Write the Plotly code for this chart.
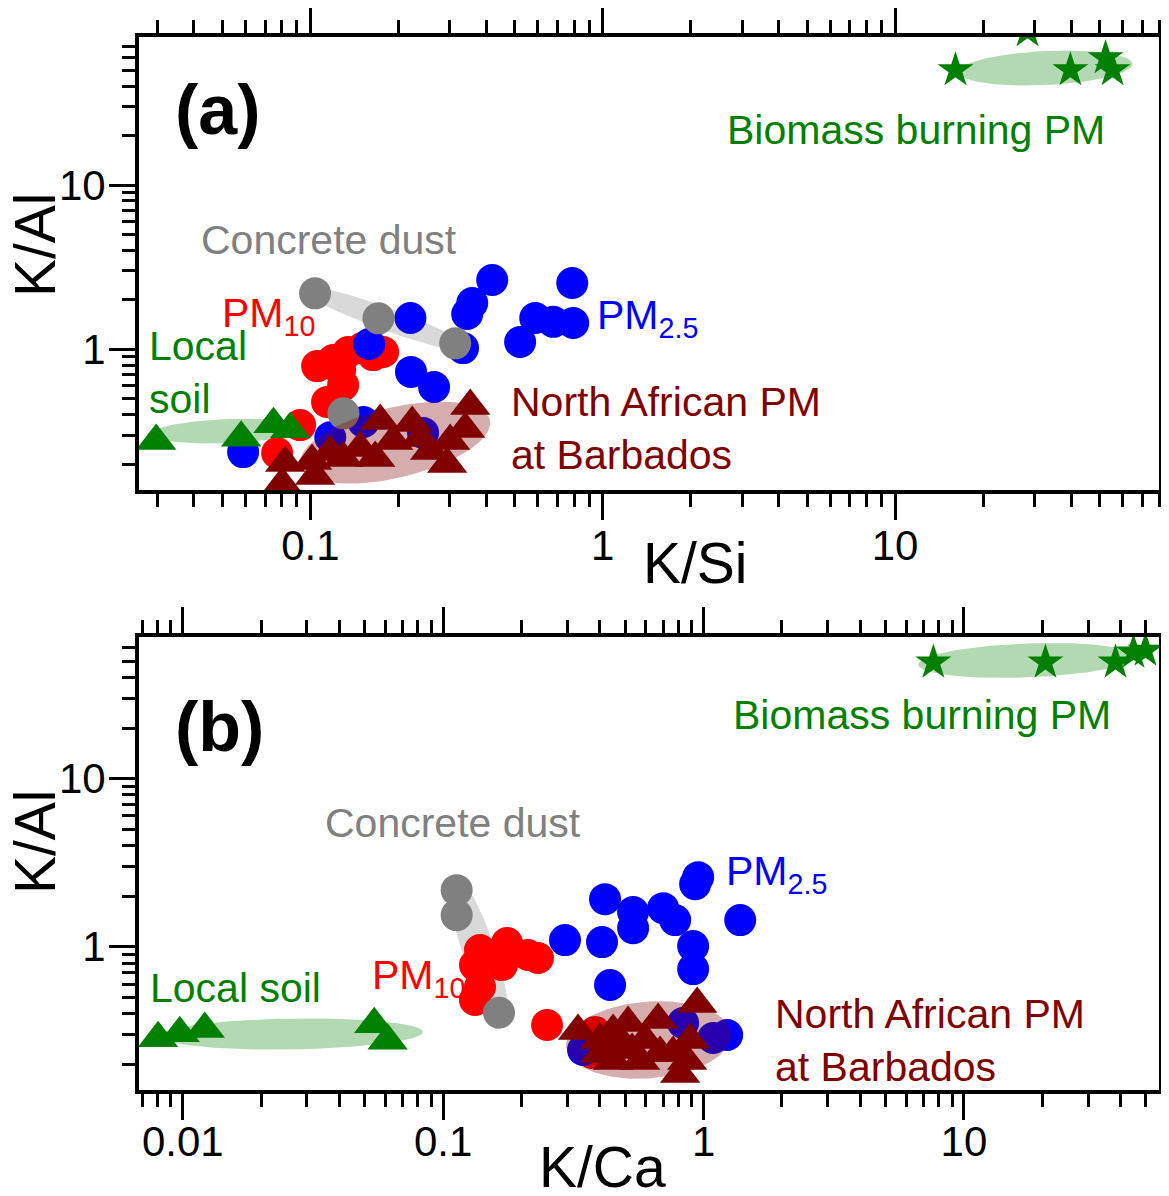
import numpy as np
import plotly.graph_objects as go

FONT = "Liberation Sans, Arial, sans-serif"
GREEN = "#008000"; BLUE = "#0000ff"; RED = "#ff0000"; GREY = "#808080"; MAROON = "#800000"

# ---------------- Panel (a): K/Al vs K/Si ----------------
soil_a_x = [0.0297, 0.058, 0.0748, 0.0853]
soil_a_y = [0.277, 0.290, 0.350, 0.326]
pm25_a_x = [0.0589, 0.117, 0.152, 0.243, 0.159, 0.220, 0.221, 0.265, 0.333, 0.344, 0.358, 0.419, 0.522, 0.588, 0.678, 0.793, 0.787]
pm25_a_y = [0.237, 0.292, 0.361, 0.310, 1.077, 1.551, 0.729, 0.590, 1.018, 1.640, 1.913, 2.641, 1.108, 1.551, 1.470, 1.446, 2.532]
pm10_a_x = [0.0770, 0.0923, 0.1141, 0.1295, 0.1055, 0.1197, 0.1347, 0.1504, 0.164, 0.1774, 0.1265]
pm10_a_y = [0.234, 0.346, 0.478, 0.606, 0.791, 0.861, 0.963, 1.018, 0.923, 0.963, 0.748]
concrete_a_x = [0.1038, 0.171, 0.313, 0.1298]
concrete_a_y = [2.192, 1.544, 1.088, 0.408]
africa_a_x = [0.0801, 0.0820, 0.1014, 0.1038, 0.1295, 0.1480, 0.1667, 0.1734, 0.1921, 0.2231, 0.2377, 0.2570, 0.2938, 0.3009, 0.3387, 0.3524, 0.1169]
africa_a_y = [0.1514, 0.2032, 0.209, 0.1694, 0.218, 0.2507, 0.218, 0.366, 0.2766, 0.356, 0.2884, 0.2404, 0.2003, 0.2766, 0.3273, 0.4517, 0.237]
biomass_a_x = [16.1, 39.8, 52.5, 55.5, 28.4]
biomass_a_y = [50.1, 50.1, 59.3, 50.1, 86.5]

# ---------------- Panel (b): K/Al vs K/Ca ----------------
soil_b_x = [0.00804, 0.00974, 0.01215, 0.05436, 0.0612]
soil_b_y = [0.2856, 0.3058, 0.3243, 0.3458, 0.2764]
pm25_b_x = [0.9535, 0.9285, 0.4184, 0.5364, 0.5364, 0.6995, 0.7779, 0.912, 0.912, 1.3826, 0.2938, 0.4075, 0.4375, 0.3446, 0.8349, 1.0887, 1.2322]
pm25_b_y = [2.595, 2.358, 1.920, 1.608, 1.291, 1.698, 1.441, 1.010, 0.737, 1.441, 1.096, 1.066, 0.592, 0.2433, 0.352, 0.2868, 0.2988]
pm10_b_x = [0.1385, 0.1759, 0.1325, 0.1683, 0.2118, 0.2313, 0.1385, 0.1325, 0.2506, 0.3833, 0.3731]
pm10_b_y = [0.956, 1.052, 0.778, 0.778, 0.893, 0.857, 0.576, 0.482, 0.3425, 0.3113, 0.2335]
concrete_b_x = [0.1127, 0.1127, 0.1639]
concrete_b_y = [2.173, 1.543, 0.4054]
africa_b_x = [0.3296, 0.4005, 0.4494, 0.5131, 0.4781, 0.4494, 0.5707, 0.5965, 0.669, 0.681, 0.764, 0.865, 0.813, 0.945, 0.888, 0.5316, 0.4005]
africa_b_y = [0.3155, 0.2304, 0.3155, 0.352, 0.25, 0.2094, 0.2094, 0.279, 0.3668, 0.2335, 0.2335, 0.2094, 0.1752, 0.4566, 0.279, 0.2433, 0.279]
biomass_b_x = [7.63, 20.55, 38.19, 44.78, 49.8]
biomass_b_y = [49.2, 49.2, 49.2, 56.4, 57.9]

# Shaded group ellipses: major-axis end points (data units) and half width (decades, direction)
ell_a = {
    "soil":     ((0.0283, 0.305), (0.096, 0.332), (0, 0.073)),
    "concrete": ((0.0923, 2.361), (0.352, 1.004), (0, 0.073)),
    "africa":   ((0.0923, 0.206), (0.4123, 0.356), (0, 0.219)),
    "biomass":  ((16.48, 48.73), (64.9, 54.5), (0, 0.1035)),
}
ell_b = {
    "soil":     ((0.00816, 0.2947), (0.0836, 0.3113), (0, 0.092)),
    "concrete": ((0.111, 2.63), (0.1698, 0.3315), (0.0653, 0)),
    "africa":   ((0.2965, 0.2606), (1.277, 0.2987), (0, 0.2288)),
    "biomass":  ((6.68, 47.84), (45.58, 53.37), (0, 0.101)),
}
ELL_COLORS = {"soil": "rgba(0,128,0,0.30)", "concrete": "rgba(128,128,128,0.30)",
              "africa": "rgba(128,0,0,0.32)", "biomass": "rgba(0,128,0,0.30)"}

xticks_a = [0.1, 1, 10]
xticks_b = [0.01, 0.1, 1, 10]
yticks = [1, 10]


def ellipse(p1, p2, half):
    t = np.linspace(0, 2 * np.pi, 121)
    l1 = np.log10(p1); l2 = np.log10(p2)
    c = (l1 + l2) / 2; A = (l2 - l1) / 2; B = np.array(half)
    pts = c[None, :] + np.cos(t)[:, None] * A[None, :] + np.sin(t)[:, None] * B[None, :]
    return 10 ** pts[:, 0], 10 ** pts[:, 1]


fig = go.Figure()


def add_ell(ells, key, xa, ya):
    ex, ey = ellipse(*ells[key])
    fig.add_trace(go.Scatter(x=ex, y=ey, mode="lines", line=dict(width=0), fill="toself",
                             fillcolor=ELL_COLORS[key], hoverinfo="skip", xaxis=xa, yaxis=ya))


def add_pts(x, y, sym, color, size, xa, ya):
    fig.add_trace(go.Scatter(x=x, y=y, mode="markers", xaxis=xa, yaxis=ya,
                             marker=dict(symbol=sym, color=color, size=size, line=dict(width=0))))


for ells, d, xa, ya in [
    (ell_a, dict(soil=(soil_a_x, soil_a_y), pm25=(pm25_a_x, pm25_a_y), pm10=(pm10_a_x, pm10_a_y),
                 conc=(concrete_a_x, concrete_a_y), afr=(africa_a_x, africa_a_y), bio=(biomass_a_x, biomass_a_y)), "x", "y"),
    (ell_b, dict(soil=(soil_b_x, soil_b_y), pm25=(pm25_b_x, pm25_b_y), pm10=(pm10_b_x, pm10_b_y),
                 conc=(concrete_b_x, concrete_b_y), afr=(africa_b_x, africa_b_y), bio=(biomass_b_x, biomass_b_y)), "x2", "y2"),
]:
    add_ell(ells, "soil", xa, ya)
    add_ell(ells, "concrete", xa, ya)
    add_pts(*d["pm10"], "circle", RED, 32, xa, ya)
    add_pts(*d["pm25"], "circle", BLUE, 32, xa, ya)
    add_pts(*d["conc"], "circle", GREY, 32, xa, ya)
    add_ell(ells, "africa", xa, ya)
    add_pts(*d["afr"], "triangle-up", MAROON, 35, xa, ya)
    add_pts(*d["soil"], "triangle-up", GREEN, 35, xa, ya)
    add_ell(ells, "biomass", xa, ya)
    add_pts(*d["bio"], "star", GREEN, 27, xa, ya)


def minor_vals(lo, hi):
    v = []
    for k in range(lo, hi + 1):
        for m in range(2, 10):
            v.append(m * 10.0 ** k)
    return v


def axis(rng, tv, tt, minor, domain, anchor, standoff):
    return dict(type="log", range=rng, showline=True, linecolor="black", linewidth=4, mirror="allticks",
                ticks="outside", ticklen=26, tickwidth=3, tickcolor="black", showgrid=False, zeroline=False,
                automargin=False, domain=domain, anchor=anchor, ticklabelstandoff=standoff,
                tickmode="array", tickvals=tv, ticktext=tt,
                tickfont=dict(family=FONT, size=42, color="black"),
                minor=dict(ticks="outside", ticklen=13, tickwidth=3, tickcolor="black",
                           tickmode="array", tickvals=minor, showgrid=False))


# The page body has an 8px default margin: the figure is laid out in window pixels minus it.
OFF = 8
W, H = 1169 - OFF, 1196 - OFF
PL, PR, PT, PB = 139 - OFF, 1159 - OFF, 37 - OFF, 1090 - OFF
YA_DOM = [(1090 - 490) / (1090 - 37), 1.0]
YB_DOM = [0.0, (1090 - 637) / (1090 - 37)]

fig.update_layout(
    width=W, height=H, margin=dict(l=PL, r=W - PR, t=PT, b=H - PB, autoexpand=False),
    plot_bgcolor="white", paper_bgcolor="white", showlegend=False,
    xaxis=axis([-1.586, 1.903], xticks_a, ["0.1", "1", "10"], minor_vals(-2, 1), [0, 1], "y", -10),
    yaxis=axis([-0.856, 1.901], yticks, ["1", "10"], minor_vals(-1, 1), YA_DOM, "x", -5),
    xaxis2=axis([-2.168, 1.749], xticks_b, ["0.01", "0.1", "1", "10"], minor_vals(-3, 1), [0, 1], "y2", -14),
    yaxis2=axis([-0.852, 1.843], yticks, ["1", "10"], minor_vals(-1, 1), YB_DOM, "x2", -5),
)


def P(px, py):
    # window pixel -> paper coordinates
    return (px - OFF - PL) / (PR - PL), (PB - (py - OFF)) / (PB - PT)


def label(text, px, py, color, size=41, xanchor="left", yanchor="middle", bold=False, angle=0):
    x, y = P(px, py)
    fig.add_annotation(x=x, y=y, xref="paper", yref="paper", text=("<b>%s</b>" % text) if bold else text,
                       showarrow=False, xanchor=xanchor, yanchor=yanchor, textangle=angle, align="left",
                       font=dict(family=FONT, size=size, color=color))


# panel (a)
label("(a)", 173, 110, "black", size=70, bold=True)
label("Biomass burning PM", 725, 130, GREEN)
label("Concrete dust", 199, 240, GREY)
label("PM<sub>10</sub>", 220, 316, RED)
label("Local<br>soil", 147, 372, GREEN)
label("PM<sub>2.5</sub>", 595, 318, BLUE)
label("North African PM<br>at Barbados", 509, 428, MAROON)
label("K/Si", 695, 563, "black", size=57, xanchor="center")
label("K/Al", 35, 245, "black", size=57, xanchor="center", angle=-90)

# panel (b)
label("(b)", 173, 727, "black", size=70, bold=True)
label("Biomass burning PM", 731, 715, GREEN)
label("Concrete dust", 323, 823, GREY)
label("PM<sub>2.5</sub>", 724, 874, BLUE)
label("PM<sub>10</sub>", 370, 978, RED)
label("Local soil", 148, 988, GREEN)
label("North African PM<br>at Barbados", 773, 1040, MAROON)
label("K/Ca", 602, 1167, "black", size=57, xanchor="center")
label("K/Al", 35, 842, "black", size=57, xanchor="center", angle=-90)

fig.write_html("out.html")
